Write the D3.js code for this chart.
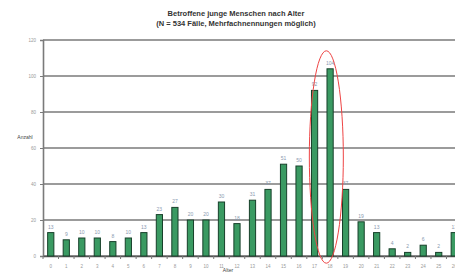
<!DOCTYPE html>
<html>
<head>
<meta charset="utf-8">
<script src="https://cdn.jsdelivr.net/npm/d3@7"></script>
<style>
  body { margin: 0; background: #fff; }
  svg { display: block; font-family: "Liberation Sans", Arial, sans-serif; }
</style>
</head>
<body>
<svg id="chart"></svg>
<script>
// ages 0..26 and number of cases per age
const ages = d3.range(0, 27).map(String);
const counts = [13, 9, 10, 10, 8, 10, 13, 23, 27, 20, 20, 30, 18, 31, 37, 51, 50, 92, 104, 37, 19, 13, 4, 2, 6, 2, 13];
const yTicks = [0, 20, 40, 60, 80, 100, 120];
const titleLines = ["Betroffene junge Menschen nach Alter", "(N = 534 Fälle, Mehrfachnennungen möglich)"];

const width = 455, height = 274;
const margin = { top: 40, right: -7, bottom: 18, left: 43 };

const svg = d3.select("#chart")
    .attr("width", width)
    .attr("height", height);

const x = d3.scaleBand()
    .domain(ages)
    .range([margin.left, width - margin.right])
    .paddingInner(0.6)
    .paddingOuter(0.3);

const y = d3.scaleLinear()
    .domain([0, 120])
    .range([height - margin.bottom, margin.top]);

// gridlines
svg.append("g")
    .selectAll("line")
    .data(yTicks)
    .enter().append("line")
    .attr("x1", margin.left)
    .attr("x2", width)
    .attr("y1", d => y(d))
    .attr("y2", d => y(d))
    .attr("stroke", "#7a7a7a")
    .attr("stroke-width", 1.6);

// y axis
const yAxis = svg.append("g")
    .attr("transform", "translate(" + margin.left + ",0)")
    .call(d3.axisLeft(y).tickValues(yTicks).tickSize(3).tickPadding(4));
yAxis.select(".domain").attr("stroke", "#7a7a7a").attr("stroke-width", 1.6);
yAxis.selectAll(".tick line").attr("stroke", "#7a7a7a");
yAxis.selectAll("text").attr("fill", "#999").style("font-size", "4.5px");

// x axis, ticks between categories
const xAxis = svg.append("g")
    .attr("transform", "translate(0," + y(0) + ")")
    .call(d3.axisBottom(x).tickSize(0).tickPadding(9));
xAxis.select(".domain").attr("stroke", "#555").attr("stroke-width", 1.6);
xAxis.selectAll("text").attr("fill", "#999").style("font-size", "4.5px");
xAxis.selectAll(".sep")
    .data(ages)
    .enter().append("line")
    .attr("x1", d => x(d) - x.step() * x.paddingInner() / 2)
    .attr("x2", d => x(d) - x.step() * x.paddingInner() / 2)
    .attr("y1", 0)
    .attr("y2", 3)
    .attr("stroke", "#777");

// bars
svg.append("g")
    .selectAll("rect")
    .data(counts)
    .enter().append("rect")
    .attr("x", (d, i) => x(ages[i]))
    .attr("y", d => y(d))
    .attr("width", x.bandwidth())
    .attr("height", d => y(0) - y(d))
    .attr("fill", "#3a9a62")
    .attr("stroke", "#17402a")
    .attr("stroke-width", 1);

// value labels
svg.append("g")
    .selectAll("text")
    .data(counts)
    .enter().append("text")
    .attr("x", (d, i) => x(ages[i]) + x.bandwidth() / 2)
    .attr("y", d => y(d) - 4)
    .attr("text-anchor", "middle")
    .attr("fill", "#8a9ab0")
    .style("font-size", "5px")
    .text(d => d);

// red ellipse round the 17 and 18 year olds
const cx = (x("17") + x("18") + x.bandwidth()) / 2 + 4;
svg.append("ellipse")
    .attr("cx", cx)
    .attr("cy", (y(114) + y(-4)) / 2)
    .attr("rx", 17)
    .attr("ry", (y(-4) - y(114)) / 2)
    .attr("fill", "none")
    .attr("stroke", "#ee4444")
    .attr("stroke-width", 1);

// title
svg.append("g")
    .selectAll("text")
    .data(titleLines)
    .enter().append("text")
    .attr("x", 236)
    .attr("y", (d, i) => 16 + i * 10)
    .attr("text-anchor", "middle")
    .attr("font-weight", "bold")
    .attr("fill", "#333")
    .style("font-size", "7.5px")
    .text(d => d);

// axis titles
svg.append("text")
    .attr("x", 25)
    .attr("y", 139)
    .attr("text-anchor", "middle")
    .attr("fill", "#444")
    .style("font-size", "5px")
    .text("Anzahl");

svg.append("text")
    .attr("x", 228)
    .attr("y", 272)
    .attr("text-anchor", "middle")
    .attr("fill", "#444")
    .style("font-size", "5px")
    .text("Alter");
</script>
</body>
</html>
